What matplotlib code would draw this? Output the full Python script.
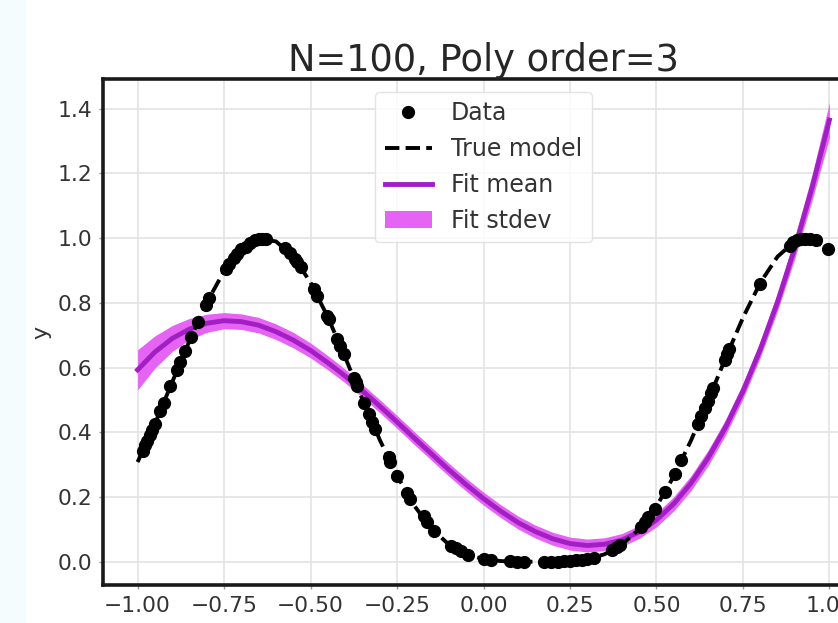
import matplotlib
matplotlib.use("Agg")
import matplotlib.pyplot as plt
from matplotlib.patches import Rectangle

# data points (x, y)
data_x = [-0.985, -0.978, -0.972, -0.965, -0.958, -0.950, -0.935, -0.925, -0.905, -0.885,
          -0.876, -0.862, -0.845, -0.825, -0.803, -0.793, -0.745, -0.735, -0.720, -0.712,
          -0.700, -0.688, -0.675, -0.662, -0.650, -0.640, -0.628, -0.575, -0.560, -0.545,
          -0.538, -0.529, -0.490, -0.481, -0.452, -0.447, -0.423, -0.414, -0.404, -0.375,
          -0.370, -0.366, -0.346, -0.332, -0.322, -0.313, -0.274, -0.269, -0.250, -0.221,
          -0.212, -0.173, -0.164, -0.144, -0.094, -0.080, -0.065, -0.046, 0.002, 0.021,
          0.077, 0.098, 0.117, 0.175, 0.194, 0.214, 0.232, 0.250, 0.268, 0.285,
          0.300, 0.319, 0.372, 0.385, 0.396, 0.454, 0.466, 0.476, 0.495, 0.524,
          0.553, 0.572, 0.620, 0.630, 0.640, 0.649, 0.659, 0.664, 0.697, 0.705,
          0.711, 0.798, 0.885, 0.895, 0.905, 0.918, 0.930, 0.945, 0.960, 0.996]
data_y = [0.343, 0.360, 0.374, 0.391, 0.407, 0.426, 0.465, 0.491, 0.542, 0.593,
          0.616, 0.652, 0.695, 0.742, 0.794, 0.815, 0.905, 0.919, 0.939, 0.950,
          0.967, 0.974, 0.985, 0.994, 0.998, 0.999, 0.996, 0.970, 0.953, 0.936,
          0.925, 0.910, 0.842, 0.822, 0.760, 0.749, 0.689, 0.667, 0.642, 0.567,
          0.554, 0.544, 0.492, 0.457, 0.432, 0.410, 0.324, 0.308, 0.266, 0.212,
          0.195, 0.140, 0.122, 0.096, 0.049, 0.041, 0.032, 0.022, 0.008, 0.005,
          0.001, 0.000, 0.000, 0.000, 0.000, 0.000, 0.001, 0.002, 0.004, 0.006,
          0.008, 0.013, 0.036, 0.044, 0.051, 0.107, 0.123, 0.137, 0.164, 0.216,
          0.271, 0.313, 0.425, 0.450, 0.475, 0.498, 0.523, 0.536, 0.622, 0.642,
          0.657, 0.858, 0.976, 0.987, 0.993, 0.996, 0.998, 0.999, 0.994, 0.966]

# curves sampled every 0.05
grid_x = [-1.00, -0.95, -0.90, -0.85, -0.80, -0.75, -0.70, -0.65, -0.60, -0.55,
          -0.50, -0.45, -0.40, -0.35, -0.30, -0.25, -0.20, -0.15, -0.10, -0.05,
          0.00, 0.05, 0.10, 0.15, 0.20, 0.25, 0.30, 0.35, 0.40, 0.45,
          0.50, 0.55, 0.60, 0.65, 0.70, 0.75, 0.80, 0.85, 0.90, 0.95, 1.00]
true_y = [0.308, 0.426, 0.555, 0.683, 0.801, 0.898, 0.967, 0.998, 0.990, 0.944,
          0.863, 0.756, 0.632, 0.502, 0.377, 0.266, 0.173, 0.102, 0.053, 0.023,
          0.008, 0.002, 0.000, 0.000, 0.000, 0.002, 0.008, 0.023, 0.053, 0.101,
          0.171, 0.264, 0.375, 0.500, 0.630, 0.754, 0.862, 0.943, 0.990, 0.998, 0.962]
fit_mean = [0.593, 0.648, 0.690, 0.719, 0.737, 0.745, 0.742, 0.731, 0.711, 0.685,
            0.653, 0.615, 0.574, 0.528, 0.481, 0.432, 0.382, 0.333, 0.284, 0.238,
            0.195, 0.156, 0.121, 0.093, 0.071, 0.056, 0.050, 0.054, 0.067, 0.092,
            0.129, 0.179, 0.243, 0.322, 0.416, 0.527, 0.656, 0.803, 0.970, 1.157, 1.365]
fit_std = [0.062, 0.050, 0.040, 0.033, 0.028, 0.025, 0.024, 0.024, 0.024, 0.024,
           0.023, 0.022, 0.021, 0.020, 0.020, 0.020, 0.020, 0.020, 0.020, 0.020,
           0.020, 0.020, 0.020, 0.020, 0.020, 0.020, 0.020, 0.020, 0.020, 0.020,
           0.021, 0.022, 0.023, 0.024, 0.024, 0.024, 0.025, 0.028, 0.033, 0.040, 0.055]

lower = [m - s for m, s in zip(fit_mean, fit_std)]
upper = [m + s for m, s in zip(fit_mean, fit_std)]

fig = plt.figure(figsize=(8.38, 6.23), dpi=100)
# pale notebook strip on the left
fig.patches.append(Rectangle((0, 0), 26 / 838, 1, transform=fig.transFigure,
                             facecolor="#f4fcfe", edgecolor="none", zorder=0))

ax = fig.add_axes([103 / 838, 38 / 623, 761 / 838, 506 / 623])

ax.plot(data_x, data_y, "o", color="black", markersize=8.5, label="Data", zorder=5)
ax.plot(grid_x, true_y, "--", color="black", lw=2.8, label="True model", zorder=4)
ax.plot(grid_x, fit_mean, "-", color="#a21fc4", lw=3.5, label="Fit mean", zorder=3)
ax.fill_between(grid_x, lower, upper, color="#e664f3", lw=0, label="Fit stdev", zorder=2)

ax.set_xlim(-1.1, 1.1)
ax.set_ylim(-0.072, 1.492)
ax.set_xticks([-1.0, -0.75, -0.5, -0.25, 0.0, 0.25, 0.5, 0.75, 1.0])
ax.set_xticklabels(["\u22121.00", "\u22120.75", "\u22120.50", "\u22120.25",
                    "0.00", "0.25", "0.50", "0.75", "1.00"])
ax.set_yticks([0.0, 0.2, 0.4, 0.6, 0.8, 1.0, 1.2, 1.4])

ax.grid(True, color="#e3e3e3", lw=1.2, zorder=0)
ax.set_axisbelow(True)
for sp in ax.spines.values():
    sp.set_linewidth(2.6)
    sp.set_color("#1a1a1a")
ax.tick_params(length=3, width=1, color="#999999", labelsize=15.7,
               labelcolor="#333333", pad=5)

ax.set_title("N=100, Poly order=3", fontsize=26.5, color="#262626", pad=6)
ax.set_ylabel("y", fontsize=16, color="#333333", labelpad=4)

ax.legend(loc="upper center", fontsize=17, framealpha=0.8, edgecolor="#dddddd",
          labelcolor="#333333", handlelength=2.0, borderaxespad=0.55)

fig.savefig("out.png", dpi=100)
